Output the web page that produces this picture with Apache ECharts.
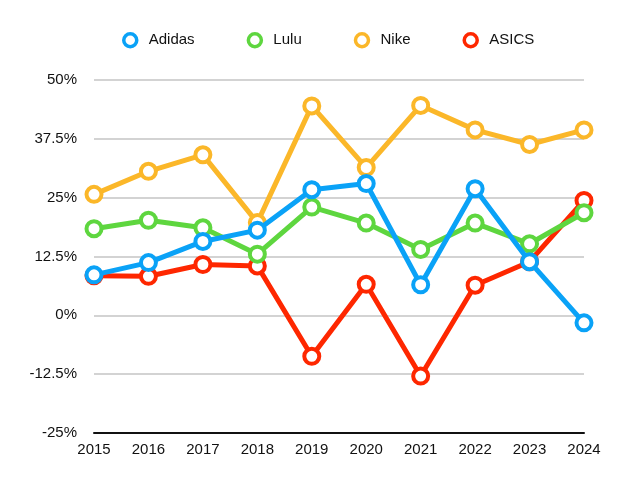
<!DOCTYPE html>
<html>
<head>
<meta charset="utf-8">
<script src="https://cdn.jsdelivr.net/npm/echarts@6/dist/echarts.min.js"></script>
<style>html,body{margin:0;padding:0;background:#fff;}#c{width:640px;height:501px;}</style>
</head>
<body>
<div id="c"></div>
<script>
var years = ['2015','2016','2017','2018','2019','2020','2021','2022','2023','2024'];
var adidas = [8.6, 11.2, 15.7, 18.1, 26.7, 28.0, 6.5, 26.9, 11.4, -1.6];
var lulu = [18.4, 20.2, 18.6, 13.0, 23.0, 19.6, 14.0, 19.6, 15.2, 21.8];
var nike = [25.7, 30.6, 34.1, 19.7, 44.5, 31.4, 44.6, 39.4, 36.3, 39.4];
var asics = [8.4, 8.3, 10.8, 10.5, -8.7, 6.6, -12.9, 6.4, 11.4, 24.4];
var yTicks = [-25, -12.5, 0, 12.5, 25, 37.5, 50];

var colors = {Adidas:'#0aa2f7', Lulu:'#5ed63f', Nike:'#fbb729', ASICS:'#fe2700'};
function mk(name, data, z) {
  return {
    name: name, type: 'line', data: data, z: z,
    symbol: 'circle', symbolSize: 15,
    lineStyle: {width: 5, color: colors[name]},
    itemStyle: {color: '#fff', borderColor: colors[name], borderWidth: 4},
    emphasis: {disabled: true}
  };
}
var chart = echarts.init(document.getElementById('c'), null, {renderer:'canvas'});
chart.setOption({
  animation: false,
  textStyle: {fontFamily: 'Liberation Sans, Arial, sans-serif'},
  legend: {
    top: 27, left: 117, itemGap: 52, itemWidth: 13, itemHeight: 13,
    icon: 'circle',
    itemStyle: {color: '#fff', borderWidth: 3.5},
    textStyle: {fontSize: 15, color: '#111', padding: [0, 0, 0, 7], fontFamily: 'Liberation Sans, Arial, sans-serif'},
    data: ['Adidas','Lulu','Nike','ASICS']
  },
  grid: {left: 94, right: 56, top: 80, bottom: 68},
  xAxis: {
    type: 'category', data: years, boundaryGap: false,
    axisLine: {onZero: false, lineStyle: {color: '#111', width: 2}},
    axisTick: {show: false},
    axisLabel: {color: '#111', fontSize: 15, margin: 9, fontFamily: 'Liberation Sans, Arial, sans-serif'},
    splitLine: {show: false}
  },
  yAxis: {
    type: 'value', min: yTicks[0], max: yTicks[yTicks.length-1], interval: 12.5,
    axisLine: {show: false}, axisTick: {show: false},
    axisLabel: {color: '#111', fontSize: 15, margin: 17, formatter: function(v){return v + '%';}, fontFamily: 'Liberation Sans, Arial, sans-serif'},
    splitLine: {lineStyle: {color: '#c4c4c4', width: 1.5}}
  },
  series: [
    mk('Adidas', adidas, 5),
    mk('Lulu', lulu, 4),
    mk('Nike', nike, 3),
    mk('ASICS', asics, 2)
  ]
});
</script>
</body>
</html>
